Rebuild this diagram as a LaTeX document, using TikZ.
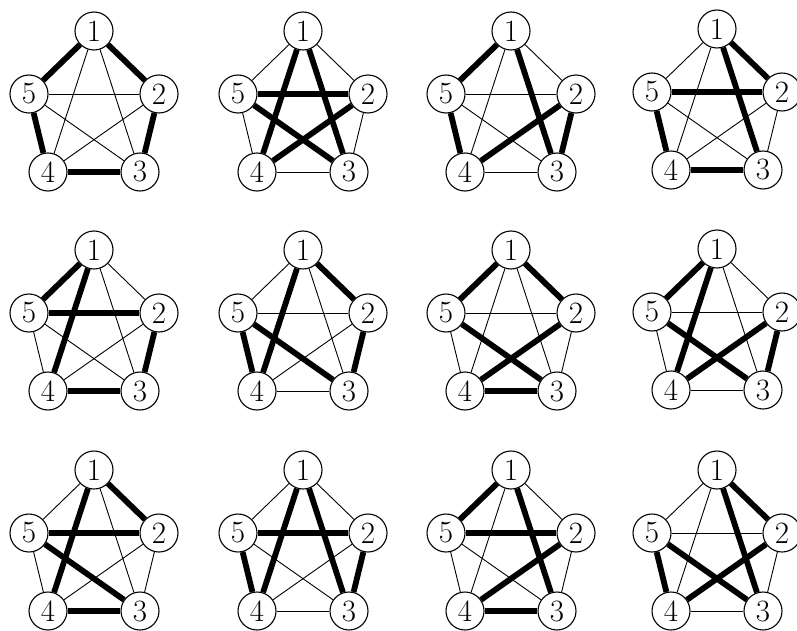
\documentclass[tikz,border=0pt]{standalone}
\tikzset{
  vtx/.style={circle,draw,line width=1.1pt,fill=white,minimum size=38pt,inner sep=0pt,font=\fontsize{31}{33}\selectfont},
  lightedge/.style={line width=0.9pt},
  heavyedge/.style={line width=5.8pt}
}
\newcommand\kfive[5]{%
 \begin{scope}[shift={(#2,#3)}]
  \node[vtx] (#1-1) at (0,0) {1};
  \node[vtx] (#1-2) at (65,63) {2};
  \node[vtx] (#1-3) at (46,141) {3};
  \node[vtx] (#1-4) at (-46,141) {4};
  \node[vtx] (#1-5) at (-65,63) {5};
 \end{scope}
 \foreach \a/\b in {#4} \draw[lightedge] (#1-\a) -- (#1-\b);
 \foreach \a/\b in {#5} \draw[heavyedge] (#1-\a) -- (#1-\b);
}
\begin{document}
\begin{tikzpicture}[x=1pt,y=-1pt]
\useasboundingbox (0,0) rectangle (797,631);
\kfive{ga}{94}{31}{1/3,1/4,2/4,2/5,3/5}{1/2,2/3,3/4,4/5,1/5}
\kfive{gb}{303}{31}{1/2,1/5,2/3,3/4,4/5}{1/4,1/3,2/5,3/5,2/4}
\kfive{gc}{511}{31}{1/2,1/4,2/5,3/4,3/5}{1/5,4/5,2/4,2/3,1/3}
\kfive{gd}{717}{29}{1/4,1/5,2/3,2/4,3/5}{1/2,1/3,2/5,4/5,3/4}
\kfive{ge}{94}{250}{1/2,1/3,2/4,3/5,4/5}{1/5,1/4,2/5,2/3,3/4}
\kfive{gf}{303}{250}{1/3,1/5,2/4,2/5,3/4}{1/2,1/4,2/3,3/5,4/5}
\kfive{gg}{511}{250}{1/3,1/4,2/3,2/5,4/5}{1/5,1/2,3/5,2/4,3/4}
\kfive{gh}{717}{249}{1/2,1/3,2/5,3/4,4/5}{1/5,1/4,3/5,2/4,2/3}
\kfive{gi}{94}{470}{1/3,1/5,2/3,2/4,4/5}{1/2,1/4,2/5,3/5,3/4}
\kfive{gj}{303}{470}{1/2,1/5,2/4,3/4,3/5}{1/4,1/3,2/5,4/5,2/3}
\kfive{gk}{511}{470}{1/2,1/4,2/3,3/5,4/5}{1/5,1/3,2/5,2/4,3/4}
\kfive{gl}{717}{470}{1/4,1/5,2/3,2/5,3/4}{1/2,1/3,3/5,4/5,2/4}
\end{tikzpicture}
\end{document}
